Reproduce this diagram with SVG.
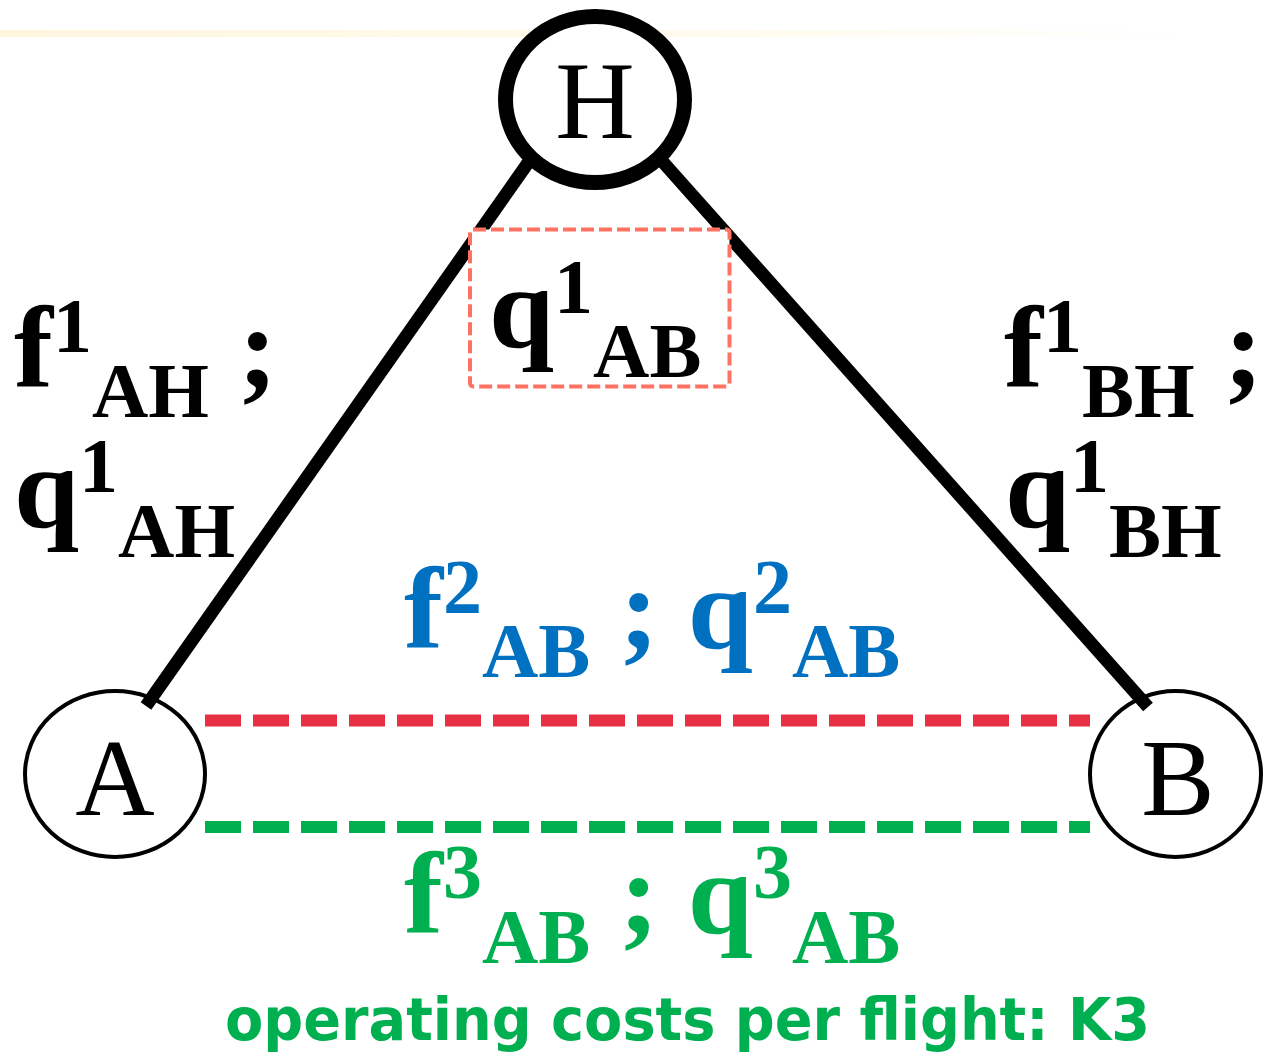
<svg xmlns="http://www.w3.org/2000/svg" width="1264" height="1056" viewBox="0 0 1264 1056">
<defs>
<linearGradient id="band" x1="0" y1="0" x2="1" y2="0">
<stop offset="0" stop-color="#FFF6DE"/>
<stop offset="0.6" stop-color="#FFFBEE"/>
<stop offset="1" stop-color="#FFFFFF"/>
</linearGradient>
<style>
.lbl{font-family:"Liberation Serif","Times New Roman",serif;font-weight:bold;font-size:117px}
.s{font-size:78px}
.node{font-family:"Liberation Serif","Times New Roman",serif;font-size:110px;text-anchor:middle;fill:#000}
.edge{stroke:#000;stroke-width:13;stroke-linecap:butt;fill:none}
.dash{stroke-width:12;stroke-dasharray:36 12;fill:none}
</style>
</defs>
<rect width="1264" height="1056" fill="#fff"/>
<rect x="0" y="30" width="1200" height="7" fill="url(#band)"/>
<g id="connectors">
<line class="edge" x1="146" y1="706" x2="530" y2="160"/>
<line class="edge" x1="662" y1="161" x2="1148" y2="707"/>
<line class="dash" x1="205" y1="720.5" x2="1090" y2="720.5" stroke="#E83045"/>
<line class="dash" x1="205" y1="827" x2="1090" y2="827" stroke="#00B050"/>
</g>
<g id="node-H">
<ellipse cx="595" cy="99.5" rx="89.5" ry="83" fill="#fff" stroke="#000" stroke-width="15"/>
<text class="node" x="595" y="138" font-size="107">H</text>
</g>
<g id="node-A">
<ellipse cx="115" cy="774" rx="90" ry="83" fill="none" stroke="#000" stroke-width="4"/>
<text class="node" x="115" y="815" font-size="112">A</text>
</g>
<g id="node-B">
<ellipse cx="1175.5" cy="774" rx="85.5" ry="83" fill="none" stroke="#000" stroke-width="4"/>
<text class="node" x="1178" y="815" font-size="112">B</text>
</g>
<g id="box-q1AB">
<rect x="470" y="229.5" width="259.5" height="157" rx="3" fill="#fff" stroke="#FF7262" stroke-width="4" stroke-dasharray="13 5"/>
<text class="lbl" x="489" y="347">q<tspan class="s" y="313">1</tspan><tspan class="s" y="377">AB</tspan></text>
</g>
<g id="labels">
<text class="lbl" x="14" y="387">f<tspan class="s" y="352">1</tspan><tspan class="s" y="417">AH</tspan><tspan y="387"> ;</tspan></text>
<text class="lbl" x="14" y="527">q<tspan class="s" y="492">1</tspan><tspan class="s" y="557">AH</tspan></text>
<text class="lbl" x="1004" y="387">f<tspan class="s" y="352">1</tspan><tspan class="s" y="417">BH</tspan><tspan y="387"> ;</tspan></text>
<text class="lbl" x="1005" y="527">q<tspan class="s" y="492">1</tspan><tspan class="s" y="557">BH</tspan></text>
<text class="lbl" x="404" y="648" fill="#0070C0">f<tspan class="s" y="613">2</tspan><tspan class="s" y="677">AB</tspan><tspan y="648"> ; q</tspan><tspan class="s" y="613">2</tspan><tspan class="s" y="677">AB</tspan></text>
<text class="lbl" x="404" y="933" fill="#00B050">f<tspan class="s" y="898">3</tspan><tspan class="s" y="963">AB</tspan><tspan y="933"> ; q</tspan><tspan class="s" y="898">3</tspan><tspan class="s" y="963">AB</tspan></text>
<text x="225" y="1040" font-family="'Comic Sans MS','DejaVu Sans',sans-serif" font-weight="bold" font-size="58" fill="#00B050" textLength="925" lengthAdjust="spacingAndGlyphs">operating costs per flight: K3</text>
</g>
</svg>
